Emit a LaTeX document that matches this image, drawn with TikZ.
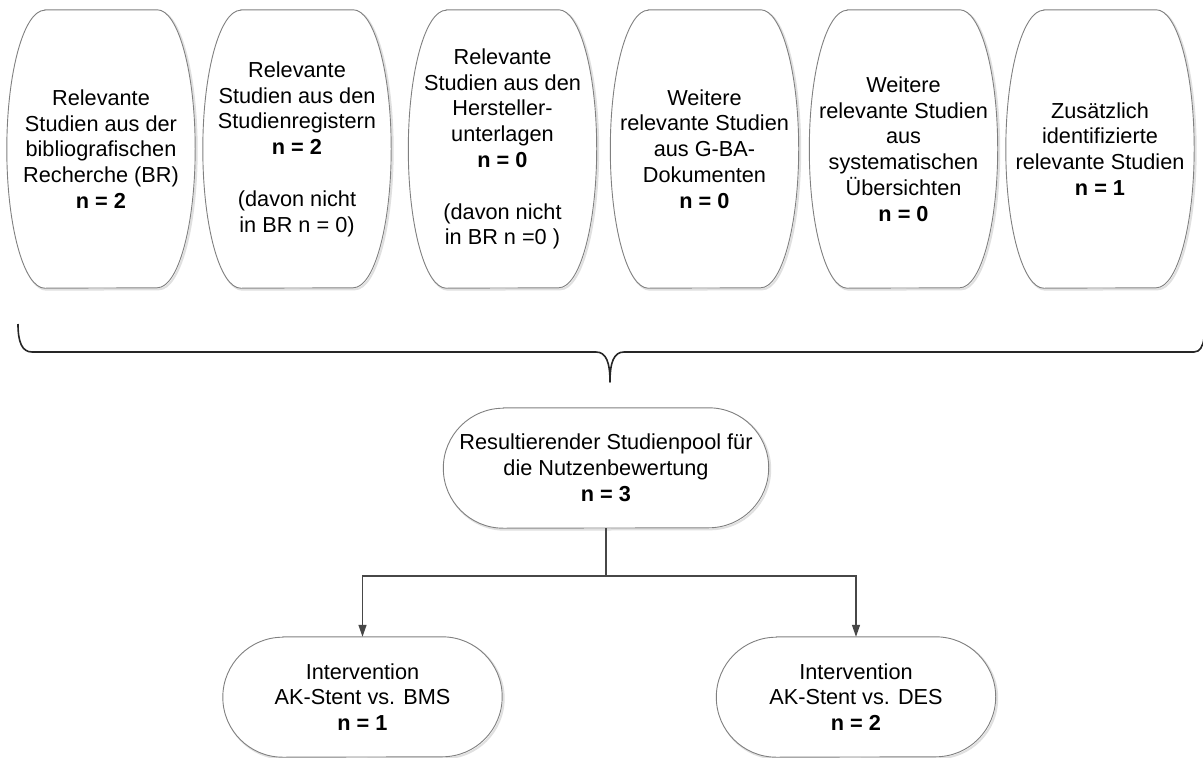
\documentclass[tikz,border=0pt]{standalone}
\usepackage{fontspec}
\setmainfont{Liberation Sans}
\usetikzlibrary{arrows.meta,calc}
\tikzset{
  boxnode/.style={draw=none,inner sep=0pt,align=center,font=\fontsize{21.7}{25.8}\selectfont,text=black},
  boxline/.style={draw=black!50,line width=0.9pt,fill=white},
  boxshadow/.style={draw=black!12,line width=2pt},
  conn/.style={draw=black!72,line width=1.3pt},
  arr/.style={conn,-{Triangle[length=12pt,width=8pt]}},
  bracel/.style={draw=black!85,line width=1.6pt,line join=round}
}
% #1 node name, #2 x radius, #3 y radius
\newcommand\stad[3]{%
  \path[boxshadow] ($(#1.north west)+(#2+1.5,-1.5)$) -- ($(#1.north east)+(-#2+1.5,-1.5)$)
    arc[start angle=90,end angle=-90,x radius=#2,y radius=#3]
    -- ($(#1.south west)+(#2+1.5,-1.5)$)
    arc[start angle=270,end angle=90,x radius=#2,y radius=#3] -- cycle;
  \path[boxline] ($(#1.north west)+(#2,0)$) -- ($(#1.north east)+(-#2,0)$)
    arc[start angle=90,end angle=-90,x radius=#2,y radius=#3]
    -- ($(#1.south west)+(#2,0)$)
    arc[start angle=270,end angle=90,x radius=#2,y radius=#3] -- cycle;
}
\begin{document}
\begin{tikzpicture}[x=1pt,y=1pt]
\useasboundingbox (0,0) rectangle (1203,-758);
\fill[white] (0,0) rectangle (1203,-758);

% top boxes (shapes first, text after)
\foreach \nm/\cx in {b1/101,b2/297,b3/502.5,b4/704.5,b5/903.5,b6/1100}{
  \path (\cx,-149) node[boxnode,minimum width=188pt,minimum height=278pt] (\nm) {};
  \stad{\nm}{38}{139}
}
\node[boxnode] (t1) at (b1) {Relevante\\Studien aus der\\bibliografischen\\Recherche (BR)\\\textbf{n = 2}};
\node[boxnode] (t2) at (b2) {Relevante\\Studien aus den\\Studienregistern\\\textbf{n = 2}\\[25.8pt](davon nicht\\in BR n = 0)};
\node[boxnode] (t3) at (b3) {Relevante\\Studien aus den\\Hersteller-\\unterlagen\\\textbf{n = 0}\\[25.8pt](davon nicht\\in BR n =0 )};
\node[boxnode] (t4) at (b4) {Weitere\\relevante Studien\\aus G-BA-\\Dokumenten\\\textbf{n = 0}};
\node[boxnode] (t5) at (b5) {Weitere\\relevante Studien\\aus\\systematischen\\Übersichten\\\textbf{n = 0}};
\node[boxnode] (t6) at (b6) {Zusätzlich\\identifizierte\\relevante Studien\\\textbf{n = 1}};

% brace
\coordinate (brL) at (18,-324);
\coordinate (brTip) at (610,-382);
\coordinate (brR) at (1204,-338);
\draw[bracel] (brL) .. controls (18,-342) and (22,-352) .. (32,-352)
  -- (596,-352) .. controls (606,-352) and (610,-362) .. (brTip)
  .. controls (610,-362) and (614,-352) .. (624,-352)
  -- (1194,-352) .. controls (1200,-352) and (1203,-346) .. (brR);

% pool
\path (606,-468) node[boxnode,minimum width=325pt,minimum height=120pt] (pool) {};
\stad{pool}{60}{60}
\node[boxnode] (tpool) at (pool) {Resultierender Studienpool für\\die Nutzenbewertung\\\textbf{n = 3}};

% bottom boxes
\path (362.5,-697) node[boxnode,minimum width=279pt,minimum height=120pt] (bms) {};
\stad{bms}{60}{60}
\node[boxnode] (tbms) at (bms) {Intervention\\AK-Stent vs. BMS\\\textbf{n = 1}};
\path (856,-697) node[boxnode,minimum width=279pt,minimum height=120pt] (des) {};
\stad{des}{60}{60}
\node[boxnode] (tdes) at (des) {Intervention\\AK-Stent vs. DES\\\textbf{n = 2}};

% connectors
\coordinate (split) at (606,-576);
\draw[conn] (pool.south) -- (split);
\draw[arr] (split) -| (bms.north);
\draw[arr] (split) -| (des.north);
\end{tikzpicture}
\end{document}
